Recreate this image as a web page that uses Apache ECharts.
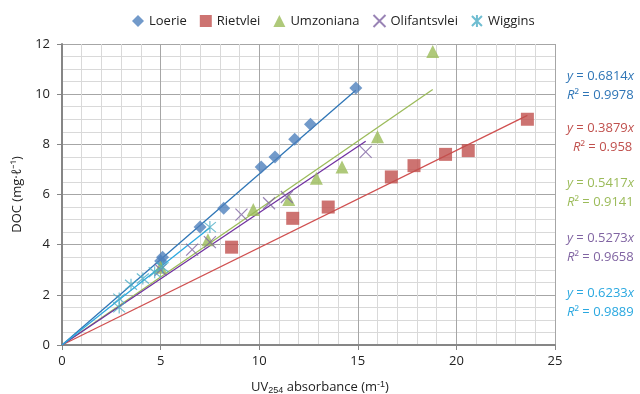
<!DOCTYPE html>
<html><head><meta charset="utf-8">
<script src="https://cdn.jsdelivr.net/npm/echarts@6/dist/echarts.min.js"></script>
<style>html,body{margin:0;padding:0;background:#fff}#c{width:640px;height:394px}</style>
</head><body><div id="c"></div>
<script>
const seriesNames = ['Loerie','Rietvlei','Umzoniana','Olifantsvlei','Wiggins'];
const loerie = [[5.0,3.35],[5.1,3.5],[7.0,4.7],[8.2,5.45],[10.1,7.1],[10.8,7.5],[11.8,8.2],[12.6,8.8],[14.9,10.25]];
const rietvlei = [[8.6,3.9],[11.7,5.05],[13.5,5.5],[16.7,6.7],[17.85,7.15],[19.45,7.6],[20.6,7.75],[23.6,9.0]];
const umzoniana = [[5.0,3.1],[7.4,4.2],[9.7,5.4],[11.5,5.8],[12.9,6.65],[14.2,7.1],[16.0,8.3],[18.8,11.7]];
const olifantsvlei = [[5.0,3.0],[6.6,3.8],[7.5,4.1],[9.1,5.2],[10.5,5.65],[11.4,5.9],[15.4,7.7]];
const wiggins = [[2.9,1.5],[2.9,1.85],[3.5,2.4],[4.1,2.65],[4.7,2.9],[5.1,3.1],[7.5,4.7]];
const slopes = [0.6814,0.3879,0.5417,0.5273,0.6233];
const slopeLabels = ['0.6814','0.3879','0.5417','0.5273','0.6233'];
const r2Labels = ['0.9978','0.958','0.9141','0.9658','0.9889'];
const xTicks = [0,5,10,15,20,25];
const yTicks = [0,2,4,6,8,10,12];

const allData = [loerie, rietvlei, umzoniana, olifantsvlei, wiggins];
const markerColors = ['#4F81BD','#C0504D','#9BBB59','#8064A2','#4BACC6'];
const lineColors = ['#2E75B6','#D05050','#9BBB59','#7030A0','#2AA8E0'];
const textColors = ['#2E75B6','#C0504D','#9BBB59','#8064A2','#2AA8E0'];
const xPath = 'path://M0,0L10,10M10,0L0,10';
const starPath = 'path://M0,0L10,10M10,0L0,10M5,-1L5,11';
const symbols = ['diamond','rect','triangle', xPath, starPath];
const symSizes = [13,13,13,12,12];
const FONT = '"Open Sans",sans-serif';

const series = [];
allData.forEach((d,i)=>{
  const hollow = i>=3;
  series.push({
    name: seriesNames[i], type:'scatter', data:d, symbol:symbols[i], symbolSize:symSizes[i],
    itemStyle: hollow ? {color:'rgba(0,0,0,0)', borderColor:markerColors[i], borderWidth:1.2}
                      : {color:markerColors[i]},
    z: 3
  });
  const maxX = Math.max(...d.map(p=>p[0]));
  series.push({
    type:'line', data:[[0,0],[maxX, slopes[i]*maxX]], symbol:'none', silent:true,
    lineStyle:{color:lineColors[i], width:1.3}, z: 2
  });
});

const eqY = [70,122,177,232,287];
const graphic = [];
slopes.forEach((s,i)=>{
  graphic.push({type:'text', left:567, top:eqY[i], style:{
    text:'{i|y} = '+slopeLabels[i]+'{i|x}', fill:textColors[i], font:'13px '+FONT,
    rich:{i:{fontStyle:'italic', fill:textColors[i], font:'italic 13px '+FONT}}
  }});
  graphic.push({type:'text', left:(i===1?573:567), top:eqY[i]+19, style:{
    text:'{i|R}² = '+r2Labels[i], fill:textColors[i], font:'13px '+FONT,
    rich:{i:{fontStyle:'italic', fill:textColors[i], font:'italic 13px '+FONT}}
  }});
});
graphic.push({type:'text', left:'center', top:380, style:{
  text:'UV{sub|254} absorbance (m{sup|-1})', fill:'#222', font:'13px '+FONT,
  rich:{sub:{fontSize:9, verticalAlign:'bottom', padding:[7,0,0,0], fill:'#222'}, sup:{fontSize:9, padding:[0,0,6,0], fill:'#222'}}
}});

const chart = echarts.init(document.getElementById('c'));
chart.setOption({
  animation:false,
  textStyle:{fontFamily:FONT},
  legend:{top:9, left:127, itemWidth:12, itemHeight:12, itemGap:13, textStyle:{fontSize:13, color:'#222', fontFamily:FONT},
    data: seriesNames.map((n,i)=>({name:n, icon:symbols[i]}))},
  grid:{left:62, right:85, top:44, bottom:49},
  xAxis:{type:'value', min:xTicks[0], max:xTicks[xTicks.length-1], interval:5,
    axisLine:{show:true, onZero:false, lineStyle:{color:'#868686', width:2}},
    axisTick:{show:true, length:5, lineStyle:{color:'#868686'}},
    axisLabel:{fontSize:13, color:'#222', margin:10, fontFamily:FONT},
    splitLine:{show:true, lineStyle:{color:'#a6a6a6', width:1}},
    minorTick:{show:false, splitNumber:5},
    minorSplitLine:{show:true, lineStyle:{color:'#d9d9d9', width:1}}
  },
  yAxis:{type:'value', min:yTicks[0], max:yTicks[yTicks.length-1], interval:2,
    name:'DOC (mg·ℓ⁻¹)', nameLocation:'middle', nameGap:34, nameRotate:90,
    nameTextStyle:{fontSize:13, color:'#222', fontFamily:FONT},
    axisLine:{show:true, onZero:false, lineStyle:{color:'#868686', width:2}},
    axisTick:{show:true, length:5, lineStyle:{color:'#868686'}},
    axisLabel:{fontSize:13, color:'#222', margin:12, fontFamily:FONT},
    splitLine:{show:true, lineStyle:{color:'#a6a6a6', width:1}},
    minorTick:{show:false, splitNumber:4},
    minorSplitLine:{show:true, lineStyle:{color:'#d9d9d9', width:1}}
  },
  graphic: graphic,
  series: series
});
</script></body></html>
